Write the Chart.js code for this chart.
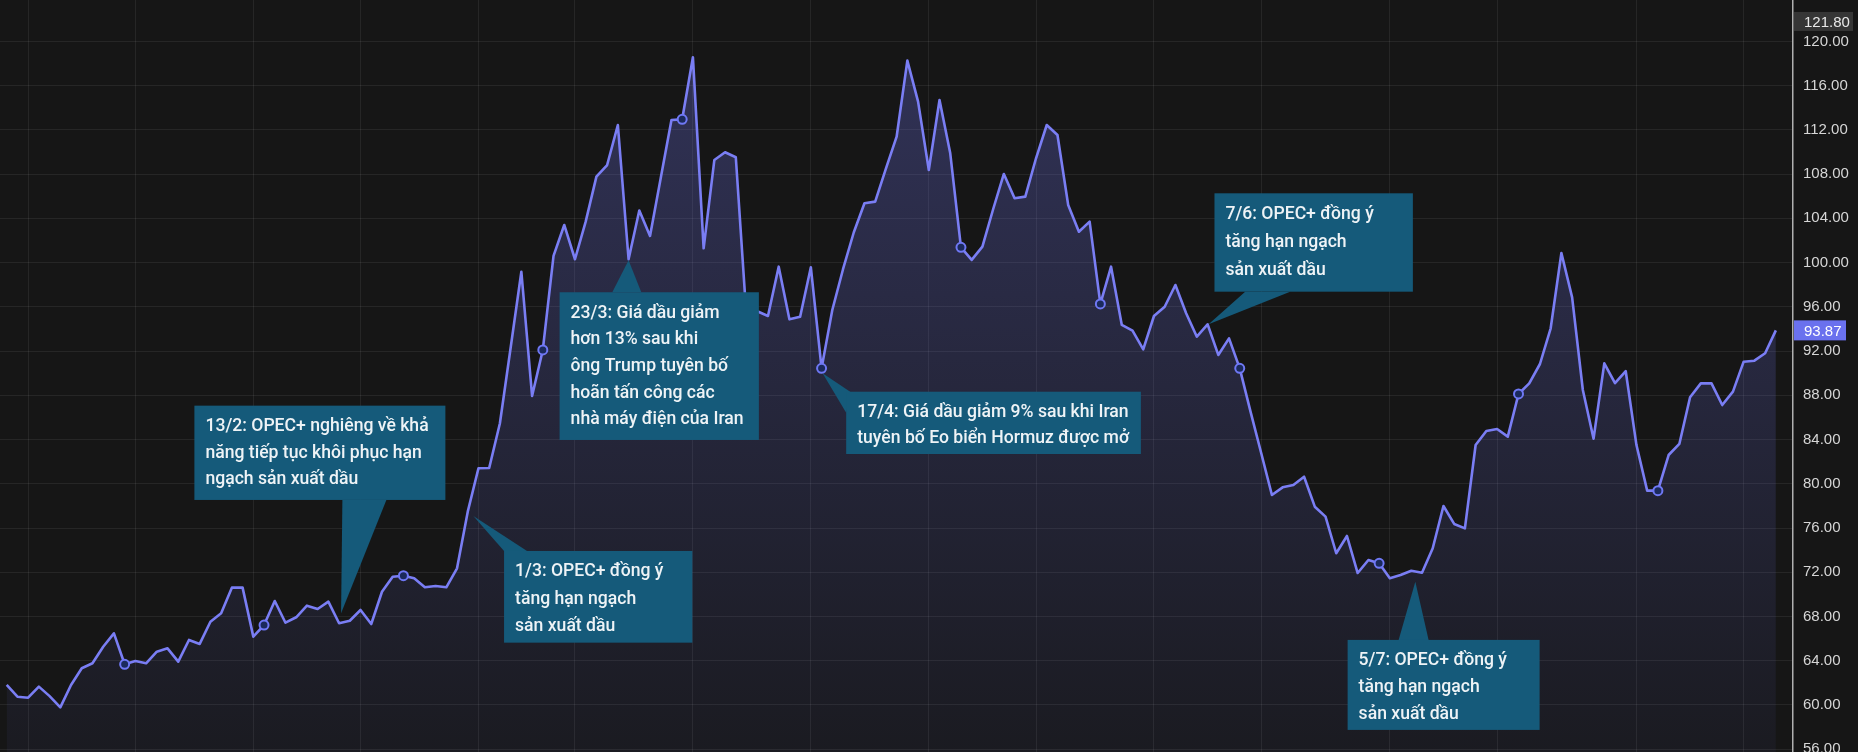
<!DOCTYPE html>
<html lang="vi">
<head>
<meta charset="utf-8">
<title>Giá dầu</title>
<script src="https://cdn.jsdelivr.net/npm/chart.js@4.4.1/dist/chart.umd.min.js"></script>
<style>
    html, body { margin: 0; padding: 0; background: #161616; }
    #wrap { width: 1858px; height: 752px; }
</style>
</head>
<body>
<div id="wrap"><canvas id="oilChart" width="1858" height="752"></canvas></div>
<script>
// Gia dau theo tung phien giao dich (USD/thung)
const prices = [
    61.81, 60.75, 60.66, 61.66, 60.80, 59.79, 61.81, 63.32, 63.77, 65.27,
    66.48, 63.68, 63.98, 63.77, 64.82, 65.12, 63.92, 65.88, 65.52, 67.53,
    68.29, 70.61, 70.61, 66.18, 67.23, 69.40, 67.44, 67.93, 68.98, 68.68,
    69.34, 67.39, 67.62, 68.59, 67.32, 70.24, 71.60, 71.69, 71.45, 70.64,
    70.76, 70.64, 72.36, 77.48, 81.40, 81.43, 85.47, 92.30, 99.17, 87.94,
    92.10, 100.60, 103.40, 100.30, 103.70, 107.77, 108.82, 112.44, 100.30, 104.70,
    102.41, 107.65, 112.89, 112.95, 118.56, 101.29, 109.28, 109.97, 109.52, 95.00,
    95.60, 95.17, 99.63, 94.87, 95.11, 99.57, 90.44, 95.71, 99.40, 102.72,
    105.36, 105.51, 108.49, 111.38, 118.26, 114.55, 108.37, 114.70, 109.88, 101.38,
    100.24, 101.44, 104.82, 108.01, 105.81, 105.96, 109.43, 112.44, 111.54, 105.20,
    102.79, 103.70, 96.26, 99.63, 94.36, 93.85, 92.16, 95.17, 96.01, 97.97,
    95.42, 93.30, 94.42, 91.65, 93.15, 90.44, 86.55, 82.78, 78.99, 79.68,
    79.89, 80.64, 77.93, 77.03, 73.72, 75.28, 71.93, 73.11, 72.81, 71.46,
    71.75, 72.14, 71.96, 74.17, 77.99, 76.37, 75.97, 83.51, 84.77, 84.95,
    84.26, 88.12, 89.08, 90.83, 94.06, 100.87, 96.85, 88.48, 84.08, 90.89,
    89.10, 90.18, 83.50, 79.38, 79.38, 82.60, 83.60, 87.82, 89.08, 89.08,
    87.12, 88.33, 91.04, 91.13, 91.80, 93.87
];
const days = prices.map((_, i) => i);

// cac diem co vong tron danh dau
const markerDays = [11, 24, 37, 50, 63, 76, 89, 102, 115, 128, 141, 154];
// vach luoi doc
const gridDays = [2, 12, 23, 33, 44, 53, 64, 75, 86, 96, 107, 117, 129, 139, 152, 162];
// nhan truc gia
const yTicks = [56, 60, 64, 68, 72, 76, 80, 84, 88, 92, 96, 100, 104, 108, 112, 116, 120];
const highMark = 121.80;

// cac su kien
const noteDays = [31, 43, 58, 76, 112, 132];
const noteTexts = [
    ['13/2: OPEC+ nghiêng về khả', 'năng tiếp tục khôi phục hạn', 'ngạch sản xuất dầu'],
    ['1/3: OPEC+ đồng ý', 'tăng hạn ngạch', 'sản xuất dầu'],
    ['23/3: Giá dầu giảm', 'hơn 13% sau khi', 'ông Trump tuyên bố', 'hoãn tấn công các', 'nhà máy điện của Iran'],
    ['17/4: Giá dầu giảm 9% sau khi Iran', 'tuyên bố Eo biển Hormuz được mở'],
    ['7/6: OPEC+ đồng ý', 'tăng hạn ngạch', 'sản xuất dầu'],
    ['5/7: OPEC+ đồng ý', 'tăng hạn ngạch', 'sản xuất dầu']
];

// vi tri hop chu so voi mui nhon (pixel)
const noteLayout = [
    { tip: [2, -10], box: [-146.7, -207.6, 251, 94.3], base: [[148, 94.3], [192, 94.3]], gap: 26.6 },
    { tip: [5.6, 4.3], box: [30.7, 35, 188.3, 91.7], base: [[0, 0], [23, 0]], gap: 27.2 },
    { tip: [0, 1], box: [-69, 32, 199.3, 147.7], base: [[52.7, 0], [81.7, 0]], gap: 26.7 },
    { tip: [1, 5], box: [23.6, 18.4, 294.7, 62.3], base: [[4, 0], [0, 21]], gap: 25.8 },
    { tip: [1, 0], box: [5.9, -131, 198.4, 98.4], base: [[30.7, 98.4], [75.7, 98.4]], gap: 28.2 },
    { tip: [-6.7, 9], box: [-67.7, 58.2, 192, 90], base: [[51, 0], [81, 0]], gap: 26.7 }
];

const lineColor = '#7a7ef4';
const noteFont = '500 {s}px Roboto';

const callouts = {
    id: 'callouts',
    beforeDraw(chart) {
        const c = chart.ctx;
        c.save();
        c.fillStyle = '#161616';
        c.fillRect(0, 0, chart.width, chart.height);
        c.restore();
    },
    afterDatasetsDraw(chart) {
        const c = chart.ctx;
        const x = chart.scales.x;
        const y = chart.scales.y;
        // co chu sao cho dong dai nhat cua hop 17/4 rong ~272px nhu anh goc
        c.save();
        c.font = noteFont.replace('{s}', '100');
        const w100 = c.measureText(noteTexts[3][0]).width;
        c.restore();
        const size = Math.min(20, 100 * 272 / w100);
        noteDays.forEach((d, k) => {
            const lay = noteLayout[k];
            const px = x.getPixelForValue(d) + lay.tip[0];
            const py = y.getPixelForValue(prices[d]) + lay.tip[1];
            const bx = px + lay.box[0];
            const by = py + lay.box[1];
            c.save();
            c.fillStyle = '#155a7a';
            c.beginPath();
            c.moveTo(px, py);
            c.lineTo(bx + lay.base[0][0], by + lay.base[0][1]);
            c.lineTo(bx + lay.base[1][0], by + lay.base[1][1]);
            c.closePath();
            c.fill();
            c.fillRect(bx, by, lay.box[2], lay.box[3]);
            c.fillStyle = '#eef3f6';
            c.font = noteFont.replace('{s}', size.toFixed(1));
            c.textBaseline = 'middle';
            noteTexts[k].forEach((t, j) => {
                c.fillText(t, bx + 11, by + 21 + j * lay.gap);
            });
            c.restore();
        });
    },
    afterDraw(chart) {
        const c = chart.ctx;
        const y = chart.scales.y;
        const left = chart.chartArea.right + 1;
        c.save();
        c.font = '15px "Liberation Sans"';
        c.textBaseline = 'middle';
        // nhan gia cao nhat
        let ty = y.getPixelForValue(highMark);
        c.fillStyle = '#363636';
        c.fillRect(left, ty - 9.5, 59, 19);
        c.fillStyle = '#e8e8e8';
        c.fillText(highMark.toFixed(2), left + 10, ty + 1);
        // nhan gia cuoi
        const last = prices[prices.length - 1];
        ty = y.getPixelForValue(last);
        c.fillStyle = '#6a71ee';
        c.fillRect(left, ty - 10, 52, 20);
        c.fillStyle = '#ffffff';
        c.fillText(last.toFixed(2), left + 10, ty + 1);
        c.restore();
    }
};

const data = {
    labels: days,
    datasets: [{
        data: prices,
        borderColor: lineColor,
        borderWidth: 2.6,
        borderJoinStyle: 'round',
        tension: 0,
        fill: 'start',
        backgroundColor: (ctx) => {
            const area = ctx.chart.chartArea;
            if (!area) return 'rgba(110,115,235,0.12)';
            const g = ctx.chart.ctx.createLinearGradient(0, area.top, 0, area.bottom);
            g.addColorStop(0, 'rgba(110,115,235,0.32)');
            g.addColorStop(1, 'rgba(110,115,235,0.05)');
            return g;
        },
        pointRadius: (ctx) => markerDays.includes(ctx.dataIndex) ? 4.5 : 0,
        pointHoverRadius: 0,
        pointBackgroundColor: '#1b2a5c',
        pointBorderColor: '#6f78f5',
        pointBorderWidth: 2
    }]
};

const config = {
    type: 'line',
    data: data,
    plugins: [callouts],
    options: {
        responsive: false,
        animation: false,
        events: [],
        layout: { padding: 0, autoPadding: false },
        plugins: {
            legend: { display: false },
            tooltip: { enabled: false }
        },
        scales: {
            x: {
                type: 'linear',
                min: -0.625,
                max: 166.6,
                afterBuildTicks: (s) => { s.ticks = gridDays.map(v => ({ value: v })); },
                afterFit: (s) => {
                    s.height = 0;
                    s.paddingLeft = 0; s.paddingRight = 0;
                    s.paddingTop = 0; s.paddingBottom = 0;
                },
                ticks: { display: false },
                grid: { color: 'rgba(255,255,255,0.07)', drawTicks: false },
                border: { display: false }
            },
            y: {
                position: 'right',
                min: 55.75,
                max: 123.74,
                afterBuildTicks: (s) => { s.ticks = yTicks.map(v => ({ value: v })); },
                afterFit: (s) => {
                    s.width = 65;
                    s.paddingTop = 0; s.paddingBottom = 0;
                    s.paddingLeft = 0; s.paddingRight = 0;
                },
                ticks: {
                    color: '#d6d6d6',
                    padding: 10,
                    font: { family: 'Liberation Sans', size: 15 },
                    callback: (v) => Number(v).toFixed(2)
                },
                grid: { color: 'rgba(255,255,255,0.07)', drawTicks: false },
                border: { color: '#b0b0b0', width: 1.5 }
            }
        }
    }
};

const ctx = document.getElementById('oilChart').getContext('2d');
new Chart(ctx, config);
</script>
</body>
</html>
